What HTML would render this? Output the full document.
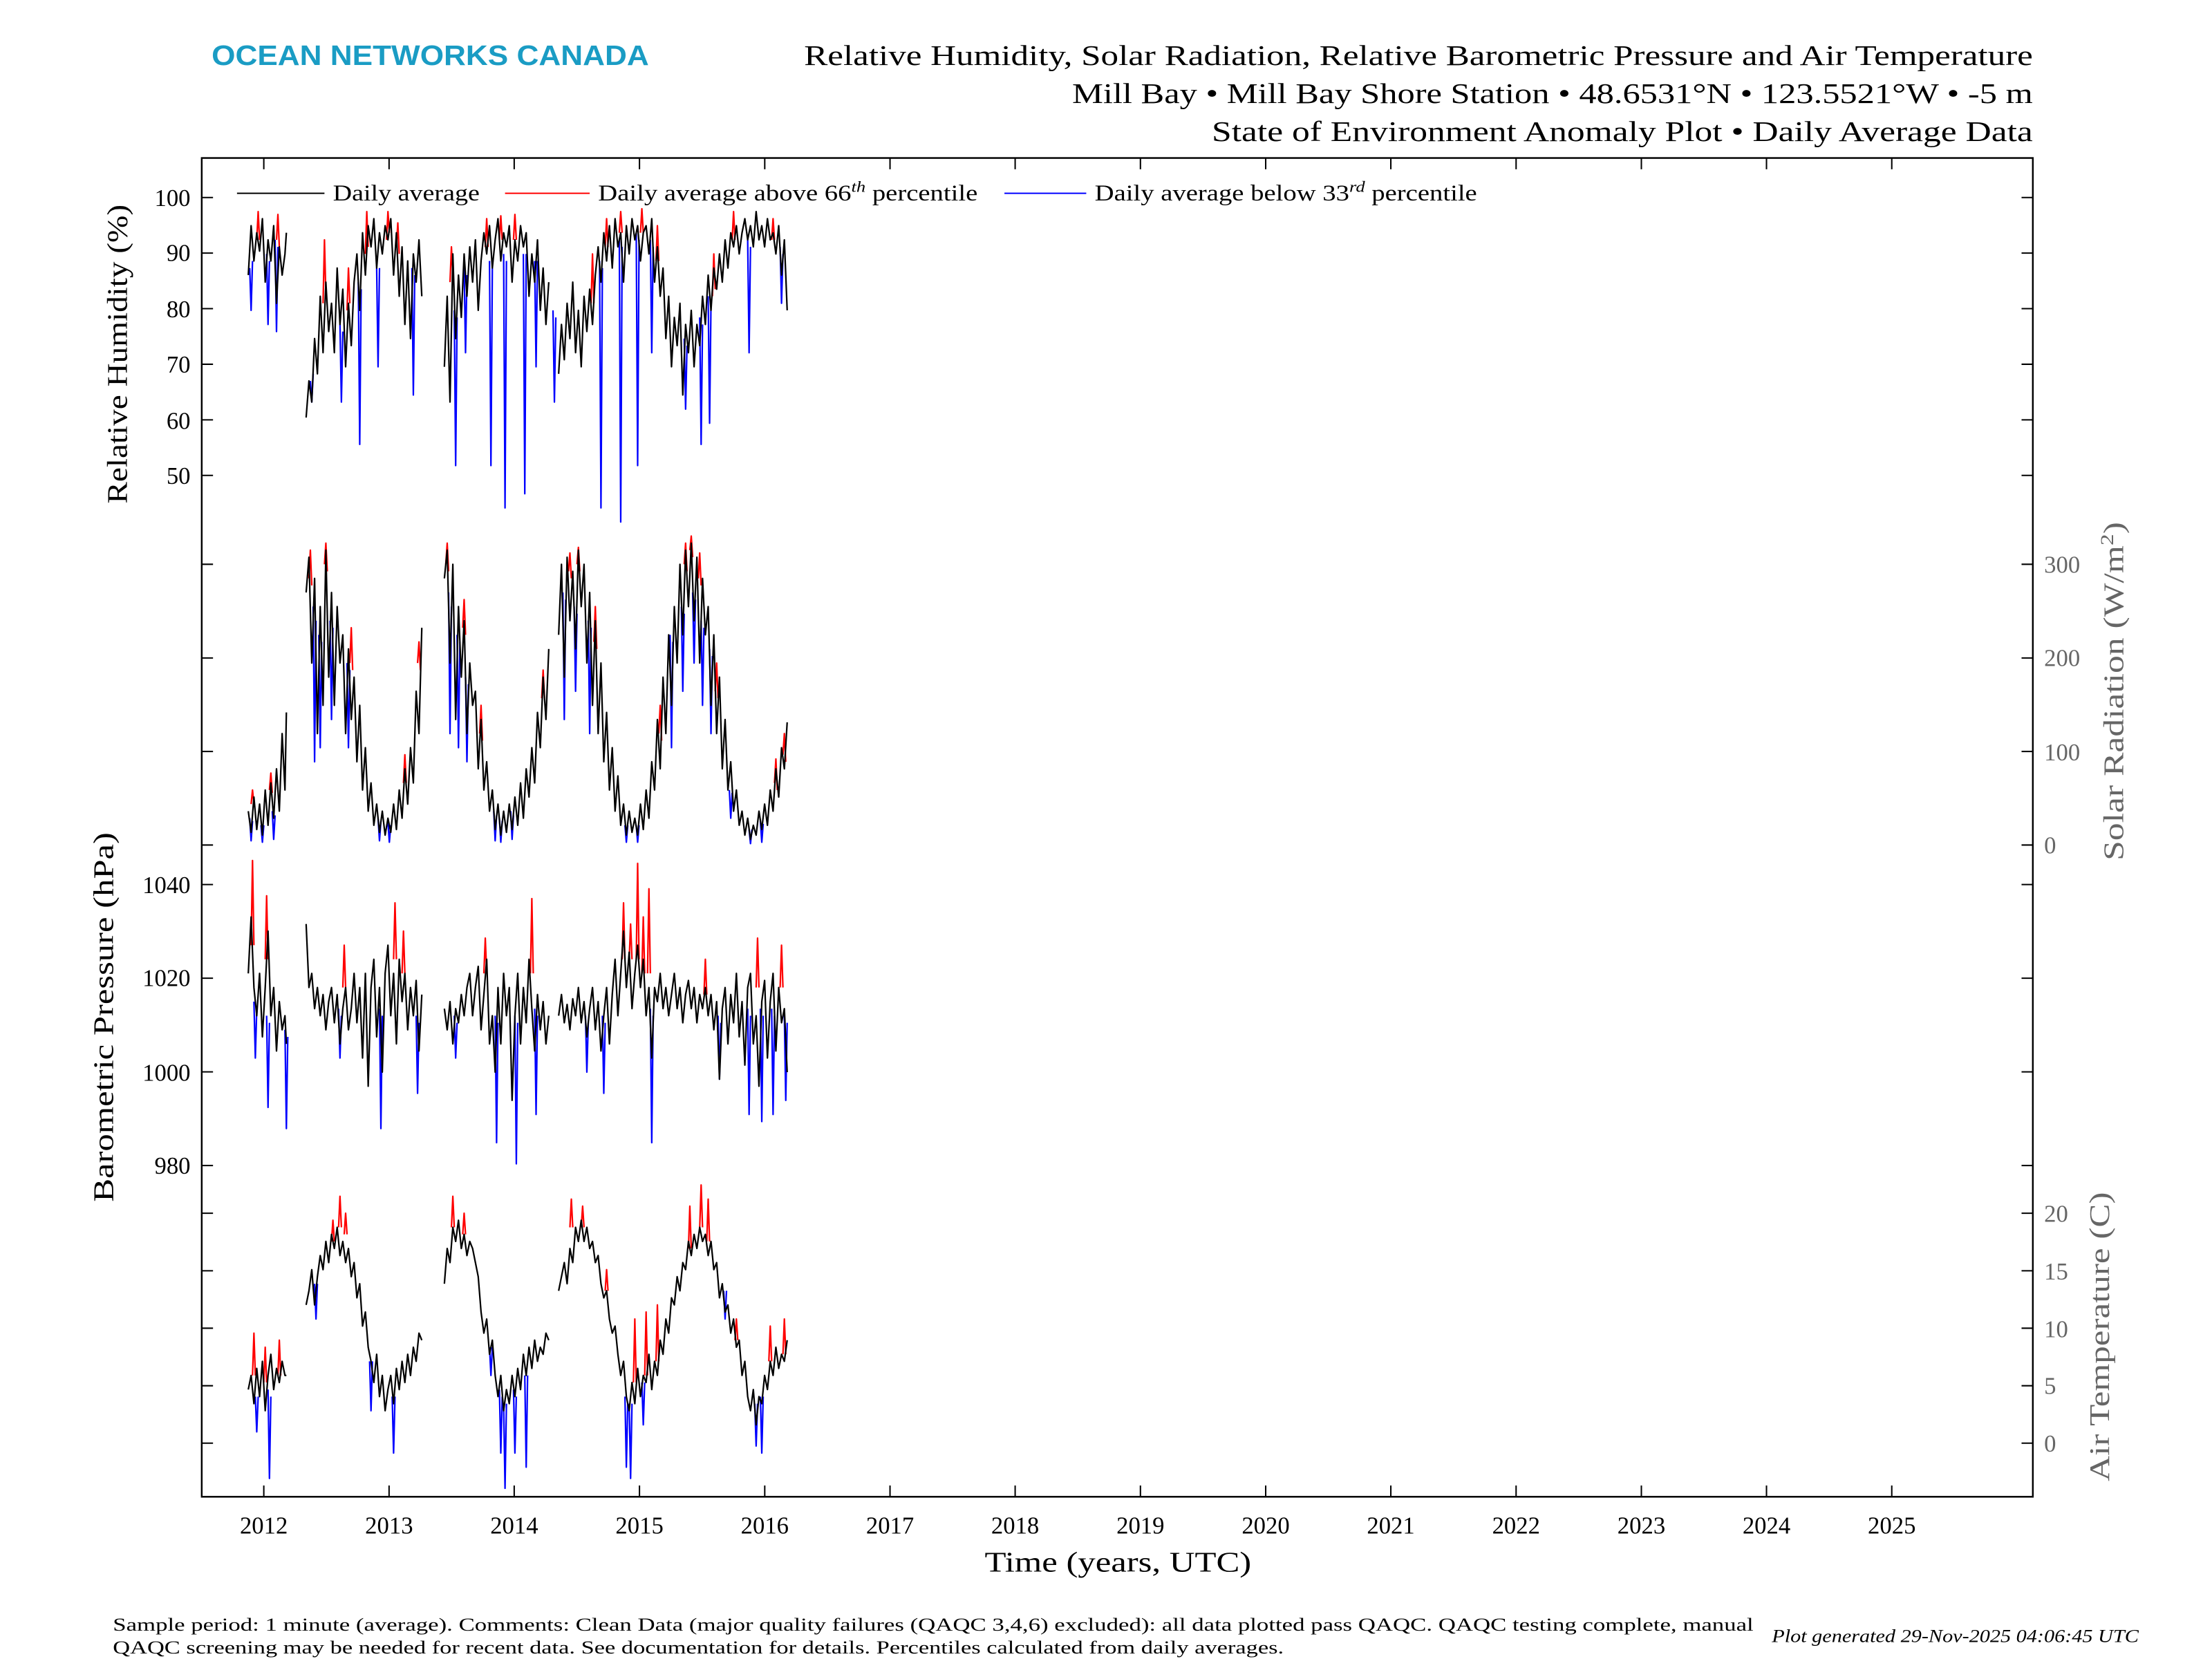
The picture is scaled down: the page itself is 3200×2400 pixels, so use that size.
<!DOCTYPE html>
<html><head><meta charset="utf-8"><style>html,body{margin:0;padding:0;background:#fff}svg{display:block}</style></head>
<body>
<svg width="3200" height="2400" viewBox="0 0 1568 1176" xmlns="http://www.w3.org/2000/svg" font-family="'Liberation Serif',serif">
<rect width="1568" height="1176" fill="#fff"/>
<text x="150" y="46" font-family="'Liberation Sans',sans-serif" font-weight="bold" font-size="20" fill="#1a9cc4" textLength="310" lengthAdjust="spacingAndGlyphs">OCEAN NETWORKS CANADA</text>
<g font-size="20" fill="#000" lengthAdjust="spacingAndGlyphs">
<text x="570" y="46" textLength="871" lengthAdjust="spacingAndGlyphs">Relative Humidity, Solar Radiation, Relative Barometric Pressure and Air Temperature</text>
<text x="760" y="73" textLength="681" lengthAdjust="spacingAndGlyphs">Mill Bay • Mill Bay Shore Station • 48.6531°N • 123.5521°W • -5 m</text>
<text x="859" y="100" textLength="582" lengthAdjust="spacingAndGlyphs">State of Environment Anomaly Plot • Daily Average Data</text>
</g>

<g fill="none" stroke-width="1.1" stroke-linejoin="round">
<!-- RH -->
<path stroke="#00f" d="M177 190 L178 220 L179 185 M189 180 L190 230 L191 185 M195 170 L196 235 L197 175 M220 270 L221 285 L222 265 M241 230 L242 285 L243 235 M254 200 L255 315 L256 205 M267 190 L268 260 L269 190 M292 190 L293 280 L294 195 M322 220 L323 330 L324 225 M329 190 L330 250 L331 195 M347 185 L348 330 L349 190 M357 180 L358 360 L359 185 M371 180 L372 350 L373 180 M379 185 L380 260 L381 185 M392 220 L393 285 L394 225 M425 185 L426 360 L427 190 M439 170 L440 370 L441 175 M451 165 L452 330 L453 170 M461 170 L462 250 L463 175 M485 240 L486 290 L487 245 M496 225 L497 315 L498 230 M502 210 L503 300 L504 215 M530 170 L531 250 L532 175 M553 175 L554 215 L555 180"/>
<path stroke="#f00" d="M182 170 L183 150 L184 170 M196 170 L197 152 L198 175 M229 215 L230 170 L231 210 M246 220 L247 190 L248 215 M259 180 L260 150 L261 175 M274 170 L275 150 L276 165 M281 175 L282 158 L283 180 M319 200 L320 175 L321 195 M344 175 L345 155 L346 175 M354 170 L355 153 L356 170 M364 170 L365 152 L366 170 M419 215 L420 180 L421 215 M429 175 L430 155 L431 175 M439 165 L440 150 L441 165 M454 165 L455 148 L456 165 M465 185 L466 160 L467 185 M505 210 L506 180 L507 205 M519 170 L520 150 L521 170 M547 170 L548 155 L549 170"/>
<path stroke="#000" d="M176 195 L178 160 L180 185 L182 165 L184 178 L186 155 L188 200 L190 170 L192 185 L194 160 L196 215 L198 175 L200 195 L202 180 L203 165 M217 296 L219 270 L221 285 L223 240 L225 265 L227 210 L229 250 L231 200 L233 235 L235 215 L237 250 L239 190 L241 230 L243 205 L245 260 L247 215 L249 245 L251 200 L253 180 L255 220 L257 165 L259 195 L261 160 L263 175 L265 155 L267 190 L269 165 L271 180 L273 160 L275 170 L277 155 L279 195 L281 165 L283 210 L285 175 L287 230 L289 185 L291 240 L293 180 L295 200 L297 170 L299 210 M315 260 L317 210 L319 285 L321 180 L323 240 L325 195 L327 225 L329 180 L331 210 L333 175 L335 200 L337 170 L339 220 L341 185 L343 165 L345 180 L347 160 L349 190 L351 170 L353 155 L355 185 L357 165 L359 175 L361 160 L363 200 L365 170 L367 185 L369 160 L371 175 L373 165 L375 210 L377 180 L379 200 L381 170 L383 220 L385 190 L387 230 L389 200 M396 265 L398 230 L400 255 L402 215 L404 240 L406 200 L408 250 L410 220 L412 260 L414 210 L416 235 L418 205 L420 230 L422 195 L424 175 L426 200 L428 165 L430 185 L432 160 L434 190 L436 155 L438 175 L440 165 L442 200 L444 160 L446 180 L448 155 L450 170 L452 160 L454 185 L456 165 L458 160 L460 180 L462 155 L464 200 L466 175 L468 210 L470 190 L472 240 L474 210 L476 260 L478 225 L480 245 L482 215 L484 280 L486 230 L488 250 L490 220 L492 260 L494 230 L496 245 L498 210 L500 230 L502 195 L504 220 L506 190 L508 205 L510 180 L512 200 L514 170 L516 190 L518 165 L520 175 L522 160 L524 180 L526 165 L528 155 L530 170 L532 160 L534 175 L536 150 L538 170 L540 160 L542 175 L544 155 L546 170 L548 165 L550 180 L552 160 L554 195 L556 170 L558 220"/>
<!-- Solar -->
<path stroke="#00f" d="M177 580 L178 596 L179 582 M185 585 L186 597 L187 585 M193 575 L194 595 L195 578 M222 430 L223 540 L224 440 M226 450 L227 530 L228 455 M234 440 L235 510 L236 445 M246 470 L247 530 L248 475 M268 580 L269 596 L270 582 M275 583 L276 597 L277 585 M318 420 L319 520 L320 430 M324 450 L325 530 L326 455 M330 480 L331 540 L332 485 M350 575 L351 596 L352 578 M354 580 L355 597 L356 582 M362 575 L363 595 L364 578 M399 420 L400 510 L401 425 M407 430 L408 490 L409 435 M417 440 L418 520 L419 445 M443 585 L444 597 L445 585 M451 585 L452 597 L453 585 M475 450 L476 530 L477 455 M483 430 L484 490 L485 435 M491 420 L492 470 L493 425 M497 440 L498 500 L499 445 M503 460 L504 520 L505 465 M517 560 L518 580 L519 562 M531 588 L532 598 L533 588 M539 582 L540 597 L541 584"/>
<path stroke="#f00" d="M178 570 L179 560 L180 570 M191 560 L192 548 L193 562 M219 410 L220 390 L221 415 M230 400 L231 385 L232 405 M248 470 L249 445 L250 475 M286 555 L287 535 L288 555 M296 470 L297 455 L298 475 M316 400 L317 385 L318 405 M328 445 L329 425 L330 450 M340 520 L341 500 L342 525 M384 495 L385 475 L386 495 M403 405 L404 392 L405 410 M409 400 L410 388 L411 405 M421 455 L422 430 L423 460 M467 520 L468 500 L469 525 M485 400 L486 385 L487 405 M489 390 L490 380 L491 395 M495 410 L496 392 L497 415 M507 490 L508 470 L509 495 M549 555 L550 538 L551 560 M555 535 L556 520 L557 540"/>
<path stroke="#000" d="M176 575 L178 590 L180 565 L182 588 L184 570 L186 592 L188 560 L190 585 L192 555 L194 580 L196 545 L198 575 L200 520 L202 560 L203 505 M217 420 L219 395 L221 470 L223 410 L225 520 L227 430 L229 500 L231 390 L233 480 L235 420 L237 500 L239 430 L241 470 L243 450 L245 520 L247 460 L249 510 L251 480 L253 540 L255 500 L257 560 L259 530 L261 575 L263 555 L265 585 L267 570 L269 590 L271 575 L273 592 L275 580 L277 590 L279 570 L281 588 L283 560 L285 580 L287 545 L289 570 L291 530 L293 555 L295 490 L297 520 L299 445 M315 410 L317 390 L319 470 L321 400 L323 510 L325 430 L327 480 L329 440 L331 520 L333 470 L335 500 L337 490 L339 545 L341 510 L343 560 L345 540 L347 575 L349 560 L351 588 L353 570 L355 592 L357 575 L359 590 L361 570 L363 588 L365 565 L367 585 L369 555 L371 580 L373 545 L375 565 L377 530 L379 555 L381 505 L383 530 L385 480 L387 510 L389 460 M396 450 L398 400 L400 480 L402 395 L404 440 L406 405 L408 460 L410 390 L412 430 L414 400 L416 470 L418 420 L420 500 L422 440 L424 520 L426 470 L428 540 L430 505 L432 560 L434 530 L436 575 L438 550 L440 585 L442 570 L444 592 L446 575 L448 590 L450 580 L452 592 L454 570 L456 588 L458 560 L460 580 L462 540 L464 560 L466 510 L468 545 L470 480 L472 520 L474 450 L476 500 L478 430 L480 470 L482 400 L484 450 L486 390 L488 430 L490 385 L492 440 L494 395 L496 470 L498 410 L500 450 L502 430 L504 500 L506 450 L508 520 L510 480 L512 545 L514 510 L516 560 L518 540 L520 575 L522 560 L524 585 L526 575 L528 592 L530 580 L532 595 L534 585 L536 592 L538 575 L540 588 L542 570 L544 585 L546 560 L548 575 L550 545 L552 565 L554 530 L556 545 L558 512"/>
<!-- Pressure -->
<path stroke="#00f" d="M180 710 L181 750 L182 715 M189 720 L190 785 L191 725 M202 730 L203 800 L204 735 M240 715 L241 750 L242 720 M269 715 L270 800 L271 720 M295 720 L296 775 L297 725 M322 720 L323 750 L324 725 M351 720 L352 810 L353 725 M365 720 L366 825 L367 725 M379 715 L380 790 L381 720 M415 720 L416 760 L417 725 M427 720 L428 775 L429 725 M461 715 L462 810 L463 720 M509 720 L510 765 L511 725 M530 715 L531 790 L532 720 M539 715 L540 795 L541 720 M547 715 L548 790 L549 720 M556 720 L557 780 L558 725"/>
<path stroke="#f00" d="M178 670 L179 610 L180 670 M188 680 L189 635 L190 680 M243 700 L244 670 L245 700 M279 680 L280 640 L281 680 M285 690 L286 660 L287 690 M343 690 L344 665 L345 690 M376 690 L377 637 L378 690 M441 680 L442 640 L443 680 M446 680 L447 655 L448 680 M451 680 L452 612 L453 680 M455 690 L456 650 L457 690 M459 690 L460 630 L461 690 M499 705 L500 680 L501 705 M536 700 L537 665 L538 700 M553 700 L554 670 L555 700"/>
<path stroke="#000" d="M176 690 L178 650 L180 700 L182 720 L184 690 L186 735 L188 700 L190 660 L192 720 L194 700 L196 745 L198 710 L200 730 L202 720 L203 740 M217 655 L219 700 L221 690 L223 715 L225 700 L227 720 L229 705 L231 730 L233 710 L235 700 L237 725 L239 705 L241 740 L243 715 L245 700 L247 730 L249 715 L251 690 L253 725 L255 700 L257 750 L259 690 L261 770 L263 700 L265 680 L267 735 L269 700 L271 760 L273 690 L275 670 L277 720 L279 690 L281 740 L283 680 L285 710 L287 690 L289 730 L291 700 L293 720 L295 695 L297 745 L299 705 M315 715 L317 730 L319 710 L321 740 L323 715 L325 725 L327 705 L329 720 L331 700 L333 690 L335 720 L337 700 L339 685 L341 730 L343 705 L345 680 L347 740 L349 720 L351 760 L353 700 L355 740 L357 690 L359 720 L361 700 L363 780 L365 720 L367 690 L369 740 L371 700 L373 725 L375 680 L377 715 L379 745 L381 705 L383 730 L385 710 L387 740 L389 720 M396 720 L398 705 L400 725 L402 712 L404 730 L406 708 L408 720 L410 700 L412 725 L414 710 L416 735 L418 715 L420 700 L422 730 L424 710 L426 745 L428 720 L430 700 L432 740 L434 705 L436 680 L438 720 L440 690 L442 660 L444 700 L446 675 L448 715 L450 690 L452 670 L454 700 L456 680 L458 720 L460 700 L462 750 L464 700 L466 710 L468 690 L470 715 L472 700 L474 720 L476 705 L478 690 L480 715 L482 700 L484 725 L486 705 L488 695 L490 715 L492 700 L494 725 L496 705 L498 715 L500 700 L502 720 L504 705 L506 730 L508 710 L510 765 L512 715 L514 700 L516 740 L518 705 L520 725 L522 690 L524 735 L526 710 L528 755 L530 700 L532 690 L534 740 L536 720 L538 770 L540 710 L542 695 L544 750 L546 710 L548 690 L550 745 L552 700 L554 725 L556 715 L558 760"/>
<!-- Temperature -->
<path stroke="#00f" d="M181 990 L182 1015 L183 990 M190 985 L191 1048 L192 990 M223 910 L224 935 L225 910 M262 965 L263 1000 L264 965 M278 990 L279 1030 L280 990 M347 955 L348 975 L349 955 M354 985 L355 1030 L356 990 M357 995 L358 1055 L359 995 M364 985 L365 1030 L366 990 M372 975 L373 1040 L374 975 M443 990 L444 1040 L445 995 M446 995 L447 1048 L448 995 M455 980 L456 1010 L457 980 M513 915 L514 935 L515 915 M535 995 L536 1025 L537 995 M539 990 L540 1030 L541 990"/>
<path stroke="#f00" d="M179 975 L180 945 L181 975 M187 980 L188 955 L189 980 M197 975 L198 950 L199 975 M235 880 L236 865 L237 880 M240 870 L241 848 L242 870 M244 875 L245 860 L246 875 M320 870 L321 848 L322 870 M328 875 L329 860 L330 875 M404 870 L405 850 L406 870 M412 870 L413 855 L414 870 M429 915 L430 900 L431 915 M449 980 L450 935 L451 980 M457 975 L458 930 L459 975 M465 965 L466 925 L467 965 M488 885 L489 855 L490 885 M496 870 L497 840 L498 870 M501 880 L502 850 L503 880 M521 950 L522 935 L523 950 M545 965 L546 940 L547 965 M555 960 L556 935 L557 960"/>
<path stroke="#000" d="M176 985 L178 975 L180 995 L182 970 L184 990 L186 965 L188 1000 L190 975 L192 960 L194 985 L196 970 L198 980 L200 965 L202 975 L203 975 M217 925 L219 915 L221 900 L223 925 L225 905 L227 890 L229 900 L231 880 L233 895 L235 875 L237 885 L239 870 L241 890 L243 880 L245 895 L247 885 L249 905 L251 895 L253 920 L255 910 L257 940 L259 930 L261 955 L263 965 L265 980 L267 960 L269 990 L271 975 L273 1000 L275 985 L277 975 L279 995 L281 970 L283 985 L285 965 L287 980 L289 960 L291 975 L293 955 L295 965 L297 945 L299 950 M315 910 L317 885 L319 895 L321 870 L323 880 L325 865 L327 885 L329 875 L331 890 L333 880 L335 885 L337 895 L339 905 L341 930 L343 945 L345 935 L347 960 L349 950 L351 975 L353 990 L355 975 L357 1000 L359 985 L361 995 L363 975 L365 990 L367 970 L369 985 L371 960 L373 975 L375 955 L377 970 L379 950 L381 965 L383 955 L385 960 L387 945 L389 950 M396 915 L398 905 L400 895 L402 910 L404 885 L406 895 L408 870 L410 880 L412 865 L414 880 L416 870 L418 885 L420 880 L422 895 L424 890 L426 910 L428 920 L430 915 L432 935 L434 945 L436 940 L438 960 L440 975 L442 965 L444 990 L446 1000 L448 980 L450 995 L452 970 L454 990 L456 975 L458 980 L460 960 L462 985 L464 965 L466 975 L468 950 L470 960 L472 935 L474 945 L476 920 L478 925 L480 905 L482 915 L484 895 L486 900 L488 880 L490 890 L492 875 L494 885 L496 870 L498 880 L500 875 L502 890 L504 880 L506 900 L508 895 L510 920 L512 910 L514 930 L516 925 L518 945 L520 935 L522 955 L524 950 L526 975 L528 965 L530 990 L532 1000 L534 985 L536 1010 L538 990 L540 995 L542 975 L544 985 L546 965 L548 975 L550 955 L552 970 L554 960 L556 965 L558 950"/>
</g>

<rect x="143" y="112" width="1298" height="949" fill="none" stroke="#000" stroke-width="1.2"/>
<g stroke="#000" stroke-width="1">
<path d="M187 1061v-8M275.8 1061v-8M364.5 1061v-8M453.3 1061v-8M542.1 1061v-8M630.9 1061v-8M719.6 1061v-8M808.4 1061v-8M897.2 1061v-8M985.9 1061v-8M1074.7 1061v-8M1163.5 1061v-8M1252.2 1061v-8M1341 1061v-8M187 112v8M275.8 112v8M364.5 112v8M453.3 112v8M542.1 112v8M630.9 112v8M719.6 112v8M808.4 112v8M897.2 112v8M985.9 112v8M1074.7 112v8M1163.5 112v8M1252.2 112v8M1341 112v8"/>
<path d="M143 140h8M143 179.4h8M143 218.8h8M143 258.2h8M143 297.6h8M143 337h8M1441 140h-8M1441 179.4h-8M1441 218.8h-8M1441 258.2h-8M1441 297.6h-8M1441 337h-8"/>
<path d="M143 400h8M143 466.4h8M143 532.7h8M143 599h8M1441 400h-8M1441 466.4h-8M1441 532.7h-8M1441 599h-8"/>
<path d="M143 627h8M143 693.4h8M143 759.8h8M143 826.2h8M1441 627h-8M1441 693.4h-8M1441 759.8h-8M1441 826.2h-8"/>
<path d="M143 860h8M143 900.8h8M143 941.5h8M143 982.3h8M143 1023h8M1441 860h-8M1441 900.8h-8M1441 941.5h-8M1441 982.3h-8M1441 1023h-8"/>
</g>
<g font-size="17" text-anchor="middle">
<text x="187" y="1087">2012</text><text x="275.8" y="1087">2013</text><text x="364.5" y="1087">2014</text><text x="453.3" y="1087">2015</text><text x="542.1" y="1087">2016</text><text x="630.9" y="1087">2017</text><text x="719.6" y="1087">2018</text><text x="808.4" y="1087">2019</text><text x="897.2" y="1087">2020</text><text x="985.9" y="1087">2021</text><text x="1074.7" y="1087">2022</text><text x="1163.5" y="1087">2023</text><text x="1252.2" y="1087">2024</text><text x="1341" y="1087">2025</text>
</g>
<g font-size="17" text-anchor="end">
<text x="135" y="146">100</text><text x="135" y="185">90</text><text x="135" y="225">80</text><text x="135" y="264">70</text><text x="135" y="304">60</text><text x="135" y="343">50</text>
<text x="135" y="633">1040</text><text x="135" y="699">1020</text><text x="135" y="766">1000</text><text x="135" y="832">980</text>
</g>
<g font-size="17" fill="#666">
<text x="1449" y="406">300</text><text x="1449" y="472">200</text><text x="1449" y="539">100</text><text x="1449" y="605">0</text>
<text x="1449" y="866">20</text><text x="1449" y="907">15</text><text x="1449" y="948">10</text><text x="1449" y="988">5</text><text x="1449" y="1029">0</text>
</g>
<g font-size="16">
<line x1="168" y1="137" x2="230" y2="137" stroke="#000"/><text x="236" y="142" textLength="104" lengthAdjust="spacingAndGlyphs">Daily average</text>
<line x1="358" y1="137" x2="418" y2="137" stroke="#f00"/><text x="424" y="142" textLength="269" lengthAdjust="spacingAndGlyphs">Daily average above 66<tspan font-style="italic" font-size="11" dy="-6">th</tspan><tspan dy="6"> percentile</tspan></text>
<line x1="712" y1="137" x2="770" y2="137" stroke="#00f"/><text x="776" y="142" textLength="271" lengthAdjust="spacingAndGlyphs">Daily average below 33<tspan font-style="italic" font-size="11" dy="-6">rd</tspan><tspan dy="6"> percentile</tspan></text>
</g>
<text transform="translate(90,357) rotate(-90)" font-size="20" textLength="212" lengthAdjust="spacingAndGlyphs">Relative Humidity (%)</text>
<text transform="translate(1505,610) rotate(-90)" font-size="20" fill="#666" textLength="240" lengthAdjust="spacingAndGlyphs">Solar Radiation (W/m<tspan font-size="13" dy="-7">2</tspan><tspan dy="7">)</tspan></text>
<text transform="translate(80,852) rotate(-90)" font-size="20" textLength="262" lengthAdjust="spacingAndGlyphs">Barometric Pressure (hPa)</text>
<text transform="translate(1495,1050) rotate(-90)" font-size="20" fill="#666" textLength="205" lengthAdjust="spacingAndGlyphs">Air Temperature (C)</text>
<text x="698" y="1114" font-size="20" textLength="189" lengthAdjust="spacingAndGlyphs">Time (years, UTC)</text>
<g font-size="13">
<text x="80" y="1156" textLength="1163" lengthAdjust="spacingAndGlyphs">Sample period: 1 minute (average). Comments: Clean Data (major quality failures (QAQC 3,4,6) excluded): all data plotted pass QAQC. QAQC testing complete, manual</text>
<text x="80" y="1172" textLength="830" lengthAdjust="spacingAndGlyphs">QAQC screening may be needed for recent data. See documentation for details. Percentiles calculated from daily averages.</text>
<text x="1256" y="1164" font-style="italic" textLength="260" lengthAdjust="spacingAndGlyphs">Plot generated 29-Nov-2025 04:06:45 UTC</text>
</g>
</svg>
</body></html>
